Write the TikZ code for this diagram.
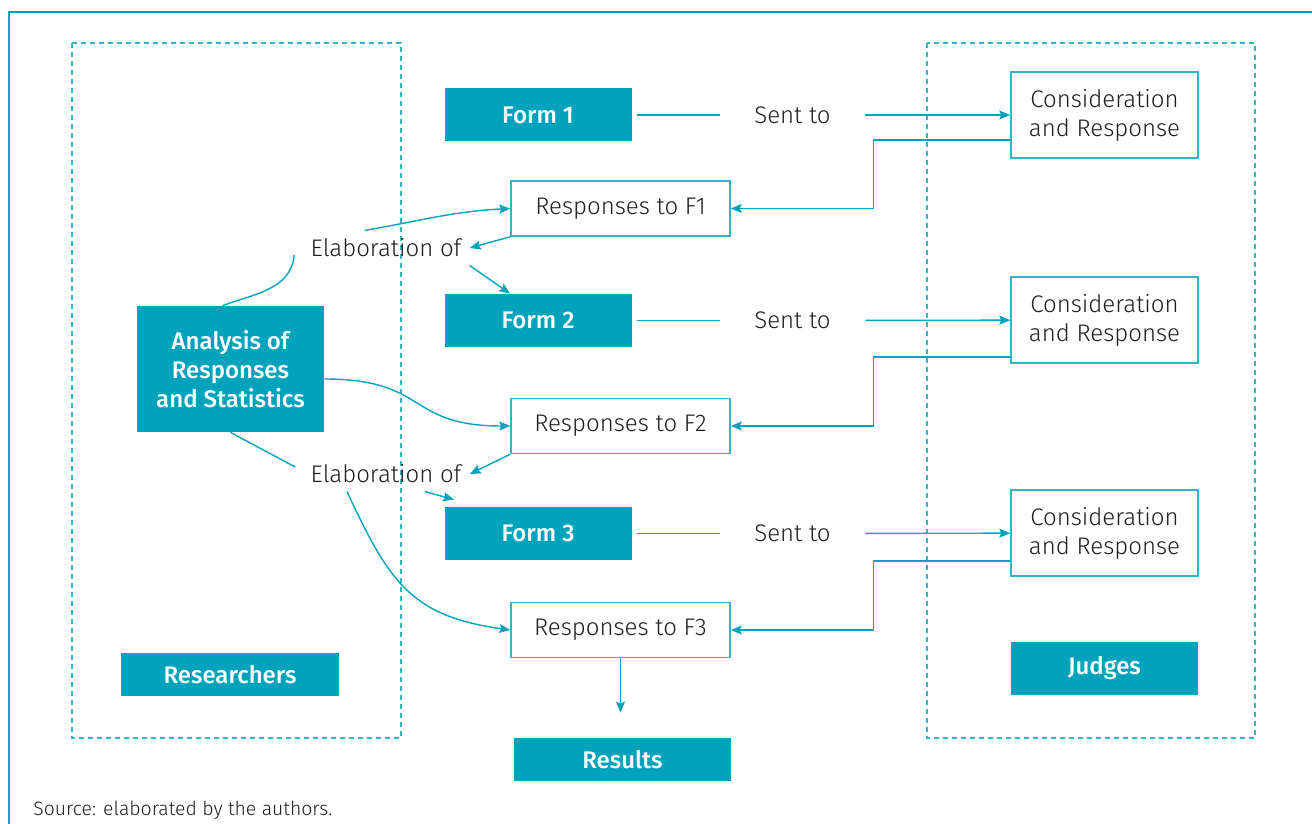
\documentclass[tikz,border=0pt]{standalone}
\usepackage{fontspec}
\setmainfont{Fira Sans}[UprightFont={Fira Sans Light}, BoldFont={Fira Sans Medium}]
\usepackage{tikz}
\usetikzlibrary{
    arrows.meta,
    calc
}
\definecolor{tealbox}{HTML}{00A3BB}
\definecolor{tealline}{HTML}{33B3C6}
\definecolor{inkgray}{HTML}{1E1E1E}

\begin{document}
\begin{tikzpicture}[x=0.5pt,y=-0.5pt,
    every node/.style={font=\fontsize{12}{14.5}\selectfont, text=inkgray},
    filled/.style={fill=tealbox, text=white, font=\fontsize{12}{14.5}\selectfont\bfseries,
        minimum width=93.5pt, minimum height=26.5pt, inner sep=0pt, align=center},
    outlined/.style={draw=tealline, line width=0.75pt, fill=white,
        minimum width=109.5pt, minimum height=27.5pt, inner sep=0pt, align=center},
    link/.style={draw=tealbox, line width=0.7pt},
    tip/.style={-{Stealth[length=5.5pt,width=4.5pt,inset=1pt]}},
    group/.style={draw=tealline, line width=0.75pt, dash pattern=on 2.5pt off 2pt},
    sentlabel/.style={minimum width=72.5pt, inner sep=0pt},
    elab/.style={inner sep=4pt}]
    \useasboundingbox (0,0) rectangle (1312,824);
    % frame and groups
    \draw[tealbox, line width=0.75pt] (9,824) -- (9,12) -- (1312,12);
    \draw[group] (72,43) rectangle (401,738);
    \draw[group] (927,43) rectangle (1255,738);

    % forms and responses
    \node[filled] (form1) at (538,115) {Form 1};
    \node[filled] (form2) at (538,320.5) {Form 2};
    \node[filled] (form3) at (538,533.5) {Form 3};
    \node[outlined] (resp1) at (620.5,208.5) {Responses to F1};
    \node[outlined] (resp2) at (620.5,426) {Responses to F2};
    \node[outlined] (resp3) at (620.5,630) {Responses to F3};
    \node[sentlabel] (sent1) at (792.5,115) {Sent to};
    \node[sentlabel] (sent2) at (792.5,320.5) {Sent to};
    \node[sentlabel] (sent3) at (792.5,533.5) {Sent to};

    % judges
    \node[outlined, minimum width=93.5pt, minimum height=43pt] (cr1) at (1104.5,115) {Consideration\\and Response};
    \node[outlined, minimum width=93.5pt, minimum height=43pt] (cr2) at (1104.5,320) {Consideration\\and Response};
    \node[outlined, minimum width=93.5pt, minimum height=43pt] (cr3) at (1104.5,533) {Consideration\\and Response};
    \node[filled] (judges) at (1104.5,668.5) {Judges};

    % researchers
    \node[filled, minimum height=63pt] (ana) at (230.5,369) {Analysis of\\Responses\\and Statistics};
    \node[filled, minimum width=109pt, minimum height=21.5pt] (researchers) at (230,674.5) {Researchers};
    \node[elab] (el1) at (386,248) {Elaboration of};
    \node[elab] (el2) at (386,474) {Elaboration of};
    \node[filled, minimum width=108.5pt, minimum height=21.5pt] (results) at (622.5,759.5) {Results};
    \node[anchor=base west, inner sep=0pt, font=\fontsize{9.7}{11}\selectfont] (source) at (33,815) {Source: elaborated by the authors.};

    % sending rounds
    \draw[link, shorten <=2.5pt] (form1) -- (sent1);
    \draw[link, tip] (sent1) -- (cr1);
    \draw[link, shorten <=2.5pt] (form2) -- (sent2);
    \draw[link, tip] (sent2) -- (cr2);
    \draw[link, shorten <=2.5pt] (form3) -- (sent3);
    \draw[link, tip] (sent3) -- (cr3);
    \draw[link, tip] ([yshift=-12.5pt]cr1.west) -- ++(-137,0) |- (resp1);
    \draw[link, tip] ([yshift=-18.5pt]cr2.west) -- ++(-137,0) |- (resp2);
    \draw[link, tip] ([yshift=-14pt]cr3.west) -- ++(-137,0) |- (resp3);

    % elaboration
    \draw[link, tip] (resp1.south west) -- (el1.east);
    \draw[link, tip] (el1.south east) -- ([xshift=-14pt]form2.north);
    \draw[link] ([xshift=-4pt]ana.north) to[out=20,in=-95] ([shift={(-4pt,-3.5pt)}]el1.west);
    \draw[link, tip] ([xshift=-10.5pt]el1.north) to[out=10,in=183] (resp1.west);
    \draw[link, tip] ([yshift=-5pt]ana.east) to[out=0,in=180,looseness=1.4] (resp2.west);
    \draw[link, tip] (resp2.south west) -- (el2.east);
    \draw[link, tip] ([xshift=19.5pt]el2.south) -- ([shift={(5pt,3.5pt)}]form3.north west);
    \draw[link] (ana.south) -- ([shift={(-3.5pt,3.5pt)}]el2.west);
    \draw[link, tip] ([xshift=-19.5pt]el2.south) to[out=-65,in=172,looseness=1.2] (resp3.west);
    \draw[link, tip, shorten >=12.5pt] (resp3.south) -- (resp3.south |- results.north);
\end{tikzpicture}
\end{document}
